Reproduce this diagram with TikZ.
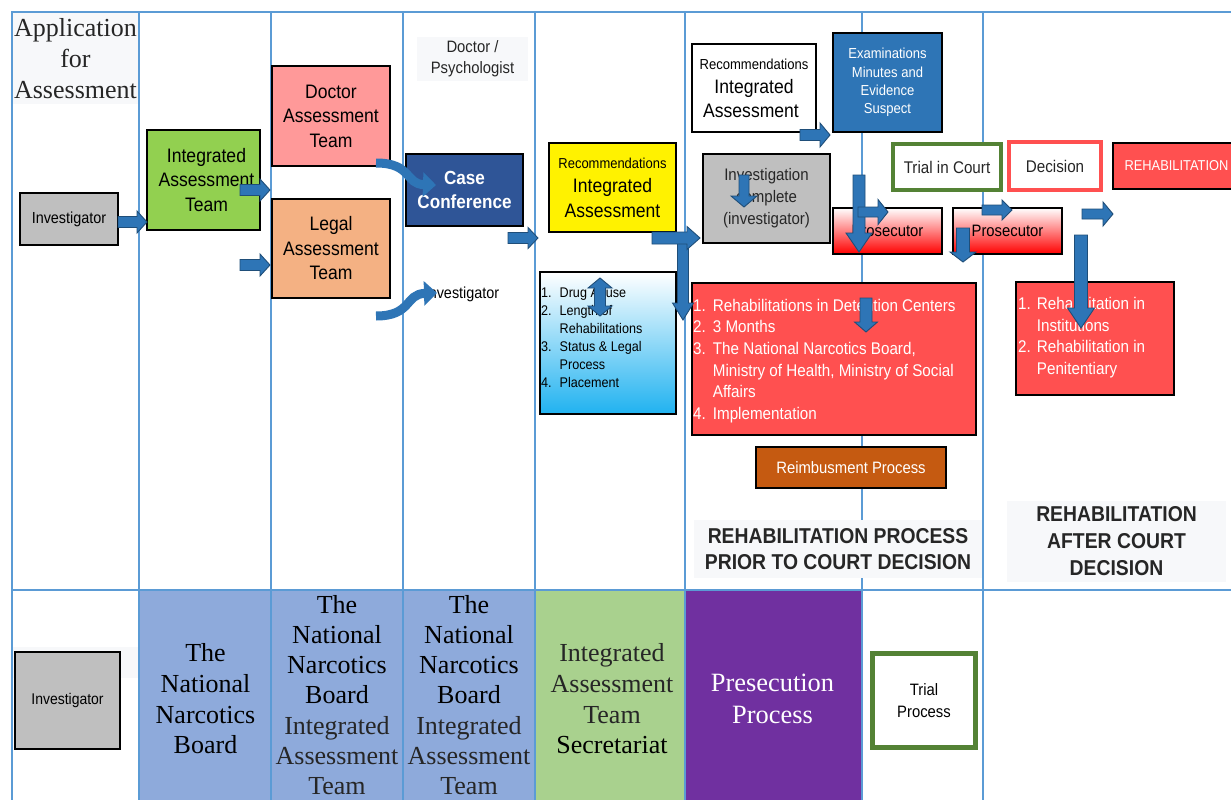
\documentclass[tikz,border=0pt]{standalone}
\usepackage{fontspec}
\setmainfont{Liberation Serif}
\newfontfamily\sn{Liberation Sans}[FakeStretch=0.9]
\usetikzlibrary{arrows.meta}
\definecolor{gridc}{HTML}{5B9BD5}
\definecolor{gray1}{HTML}{BFBFBF}
\definecolor{green1}{HTML}{92D050}
\definecolor{pink1}{HTML}{FF9999}
\definecolor{orange1}{HTML}{F4B183}
\definecolor{ccblue}{HTML}{2F5597}
\definecolor{exblue}{HTML}{2E75B6}
\definecolor{red1}{HTML}{FF5050}
\definecolor{trgreen}{HTML}{548235}
\definecolor{brown1}{HTML}{C55A11}
\definecolor{nnbblue}{HTML}{8EAADB}
\definecolor{secgreen}{HTML}{A9D18E}
\definecolor{purp}{HTML}{7030A0}
\definecolor{lblbg}{HTML}{F7F8FA}
\definecolor{arrblue}{HTML}{2E75B6}
\definecolor{arrline}{HTML}{1F4E79}
\definecolor{cyan1}{HTML}{20B2F0}
\definecolor{textdark}{HTML}{262626}
\newcommand\fsz[2]{\fontsize{#1}{#2}\selectfont}
\newcommand\mybx[7]{\node[#2, minimum width={(#5)-(#3)}, minimum height={(#6)-(#4)}] (#1) at ({((#3)+(#5))/2},{((#4)+(#6))/2}) {#7};}
\newcommand\rarr[6]{\path[barr] (#1,#2-#4) -- (#3-#6,#2-#4) -- (#3-#6,#2-#5) -- (#3,#2) -- (#3-#6,#2+#5) -- (#3-#6,#2+#4) -- (#1,#2+#4) -- cycle;}
\newcommand\darr[6]{\path[barr] (#1-#4,#2) -- (#1-#4,#3-#6) -- (#1-#5,#3-#6) -- (#1,#3) -- (#1+#5,#3-#6) -- (#1+#4,#3-#6) -- (#1+#4,#2) -- cycle;}
\newcommand\vdarr[6]{\path[barr] (#1,#2) -- (#1+#5,#2+#6) -- (#1+#4,#2+#6) -- (#1+#4,#3-#6) -- (#1+#5,#3-#6) -- (#1,#3) -- (#1-#5,#3-#6) -- (#1-#4,#3-#6) -- (#1-#4,#2+#6) -- (#1-#5,#2+#6) -- cycle;}
\begin{document}
\begin{tikzpicture}[x=1pt,y=-1pt,
  box/.style={draw=black, line width=1.6, inner sep=0, align=center},
  barr/.style={draw=arrline, fill=arrblue, line width=0.9, line join=miter},
  carr/.style={draw=arrblue, line width=9, -{Triangle[width=24pt,length=13pt]}},
  gridline/.style={draw=gridc, line width=2},
  lbl/.style={fill=lblbg, inner sep=0, align=center, text=textdark},
  sertext/.style={font=\fsz{26}{30.7}, align=center, inner sep=0},
  framed/.style={line width=4.5, fill=white, inner sep=0, align=center, font=\sn\fsz{16.9}{21}, text=textdark},
]
\useasboundingbox (0,0) rectangle (1231,800);
\clip (0,0) rectangle (1231,800);
\fill[white] (0,0) rectangle (1231,800);
% bottom row fills
\fill[nnbblue] (139,590) rectangle (535,800);
\fill[secgreen] (535,590) rectangle (685,800);
\fill[purp] (685,590) rectangle (862,800);
\fill[lblbg] (12,647) rectangle (139,678);
% header labels
\mybx{title}{lbl, font=\fsz{26}{31}}{13}{13}{138}{104}{Application\\for\\Assessment}
\mybx{docpsy}{lbl, font=\sn\fsz{16.5}{21}}{417}{37}{528}{81}{Doctor /\\Psychologist}
% grid
\foreach \x in {12,139,271,403,535,685,862,983} \draw[gridline] (\x,12) -- (\x,800);
\draw[gridline] (11,12) -- (1231,12);
\draw[gridline] (11,590) -- (1231,590);
% section labels
\mybx{lab1}{lbl, font=\sn\bfseries\fsz{21.5}{26}}{694}{520}{982}{578}{REHABILITATION PROCESS\\PRIOR TO COURT DECISION}
\mybx{lab2}{lbl, font=\sn\bfseries\fsz{21.5}{27}}{1007}{501}{1226}{582}{REHABILITATION\\AFTER COURT\\DECISION}
% boxes
\mybx{inv}{box, fill=gray1, font=\sn\fsz{16}{20}}{20}{193}{118}{245}{Investigator}
\mybx{iat}{box, fill=green1, font=\sn\fsz{19.5}{24.5}}{147}{130}{260}{230}{\hspace*{6pt}Integrated\\\hspace*{6pt}Assessment\\\hspace*{6pt}Team}
\mybx{doc}{box, fill=pink1, font=\sn\fsz{19.5}{24.5}}{272}{66}{390}{166}{Doctor\\Assessment\\Team}
\mybx{legal}{box, fill=orange1, font=\sn\fsz{19.5}{24.5}}{272}{199}{390}{298}{Legal\\Assessment\\Team}
\mybx{cc}{box, fill=ccblue, text=white, font=\sn\bfseries\fsz{19}{24}}{406}{154}{523}{226}{Case\\Conference}
\node[font=\sn\fsz{16}{20}, inner sep=0] (invtxt) at (462,294) {Investigator};
\mybx{yel}{box, fill=yellow, font=\sn\fsz{19.5}{24.5}}{549}{143}{676}{232}{{\fsz{14.4}{17}Recommendations}\\Integrated\\Assessment}
\mybx{blist}{box, top color=white, middle color=cyan1!35, bottom color=cyan1}{540}{272}{676}{414}{}
\node[anchor=north west, inner sep=0, font=\sn\fsz{14}{18}] (blisttxt) at (541,285) {\begin{tabular}{@{}l@{\hspace{8pt}}l@{}}1. & Drug Abuse\\ 2. & Length of\\ & Rehabilitations\\ 3. & Status \& Legal\\ & Process\\ 4. & Placement\end{tabular}};
\mybx{recw}{box, fill=white, font=\sn\fsz{19.5}{24}}{692}{44}{816}{132}{{\fsz{14.5}{17}Recommendations}\\Integrated\\Assessment\hspace*{6pt}}
\mybx{exam}{box, fill=exblue, text=white, font=\sn\fsz{14.5}{18.3}}{833}{33}{942}{132}{Examinations\\Minutes and\\Evidence\\Suspect}
\mybx{invc}{box, fill=gray1, text=textdark, font=\sn\fsz{16.7}{22}}{703}{154}{830}{243}{Investigation\\complete\\(investigator)}
\mybx{pros1}{box, top color=white, middle color=red!22, bottom color=red, font=\sn\fsz{16.5}{20}}{833}{208}{942}{254}{Prosecutor}
\mybx{trial}{framed, draw=trgreen}{893}{144}{1001}{190}{Trial in Court}
\mybx{decision}{framed, draw=red1}{1009}{142}{1101}{190}{Decision}
\mybx{rehab}{box, fill=red1, text=white, font=\sn\fsz{14.3}{17}}{1113}{143}{1240}{189}{REHABILITATION}
\mybx{pros2}{box, top color=white, middle color=red!22, bottom color=red, font=\sn\fsz{16.5}{20}}{953}{208}{1062}{254}{Prosecutor}
\mybx{rlist}{box, fill=red1}{1016}{282}{1174}{395}{}
\node[anchor=north west, inner sep=0, text=white, font=\sn\fsz{16.9}{21.7}] (rltxt) at (1018,294) {\begin{tabular}{@{}l@{\hspace{6pt}}l@{}}1. & Rehabilitation in\\ & Institutions\\ 2. & Rehabilitation in\\ & Penitentiary\end{tabular}};
\mybx{det}{box, fill=red1}{692}{283}{976}{435}{}
\node[anchor=north west, inner sep=0, text=white, font=\sn\fsz{16.9}{21.6}] (dettxt) at (693,296) {\begin{tabular}{@{}l@{\hspace{7pt}}l@{}}1. & Rehabilitations in Detention Centers\\ 2. & 3 Months\\ 3. & The National Narcotics Board,\\ & Ministry of Health, Ministry of Social\\ & Affairs\\ 4. & Implementation\end{tabular}};
\mybx{reimb}{box, fill=brown1, text=white, font=\sn\fsz{16.5}{20}}{756}{447}{946}{488}{Reimbusment Process}
% bottom row
\mybx{inv2}{box, fill=gray1, font=\sn\fsz{15.5}{19}}{15}{652}{120}{749}{Investigator}
\node[sertext] (b1) at (205.5,699) {The\\National\\Narcotics\\Board};
\node[sertext, font=\fsz{26}{30.2}] (b2) at (337,695) {The\\National\\Narcotics\\Board\\{\color{textdark}Integrated}\\{\color{textdark}Assessment}\\{\color{textdark}Team}};
\node[sertext, font=\fsz{26}{30.2}] (b3) at (469,695) {The\\National\\Narcotics\\Board\\{\color{textdark}Integrated}\\{\color{textdark}Assessment}\\{\color{textdark}Team}};
\node[sertext, text=textdark] (b4) at (612,699) {Integrated\\Assessment\\Team\\{\color{black}Secretariat}};
\node[sertext, text=white, font=\fsz{26.4}{31.5}] (b5) at (772.5,699) {Presecution\\Process};
\mybx{trialp}{framed, draw=trgreen, line width=5, font=\sn\fsz{16.5}{22}, text=black}{872.5}{653.5}{975.5}{747.5}{Trial\\Process}
% arrows
\rarr{118}{222}{147}{5.5}{11}{10}
\rarr{240}{190}{270}{5.5}{11}{10}
\rarr{240}{265}{270}{5.5}{11}{10}
\draw[carr] (376,163) .. controls (412,163) and (405,184) .. (436,185);
\draw[carr] (376,316) .. controls (412,316) and (405,294) .. (437,293);
\rarr{508}{238}{538}{5.5}{10.5}{10}
\darr{683}{235}{320}{5.5}{10.5}{17}
\rarr{652}{238}{700}{6}{11.5}{13}
\vdarr{600}{278}{316}{5.5}{12}{10}
\rarr{800}{135}{830}{5.5}{12}{10}
\darr{744}{175}{207}{5}{13}{11}
\darr{859}{175}{252}{6}{13}{19}
\rarr{858}{212}{888}{5}{12.5}{10}
\darr{963}{228}{262}{6.5}{13}{10}
\rarr{982}{210}{1012}{5}{10}{10}
\rarr{1082}{214}{1113}{5}{12}{10}
\darr{1081}{235}{328}{6.5}{13.5}{20}
\darr{866}{298}{332}{6}{11.5}{10}
\end{tikzpicture}
\end{document}
